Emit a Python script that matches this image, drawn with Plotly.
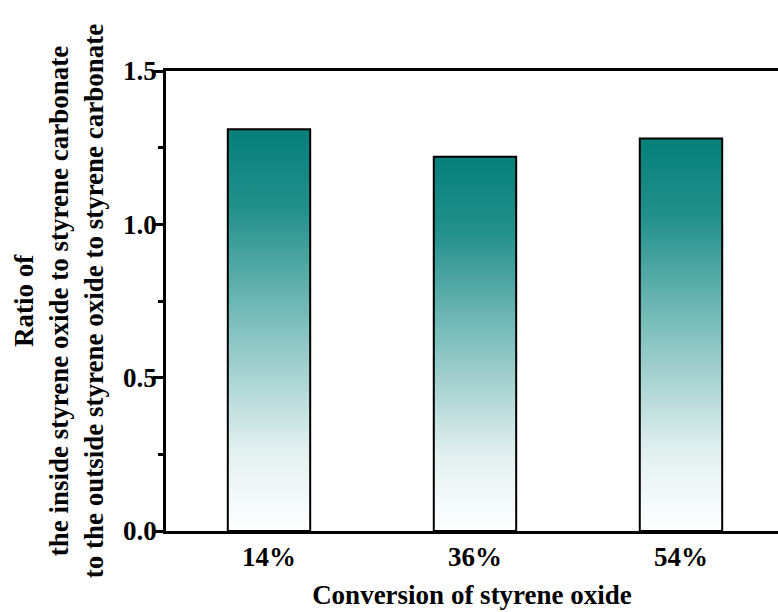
import plotly.graph_objects as go

categories = ["14%", "36%", "54%"]
ratios = [1.31, 1.22, 1.28]
y_ticks = [0.0, 0.5, 1.0, 1.5]
y_tick_labels = ["0.0", "0.5", "1.0", "1.5"]

FONT = "Liberation Serif"
half_w = 0.2
grad = [[0.0, "#ffffff"], [0.2, "#e3f0f0"], [0.5, "#84c2bf"], [0.8, "#23908b"], [1.0, "#067f79"]]

fig = go.Figure()
for i, (c, v) in enumerate(zip(categories, ratios)):
    fig.add_trace(go.Scatter(
        x=[i - half_w, i - half_w, i + half_w, i + half_w, i - half_w],
        y=[0, v, v, 0, 0],
        mode="lines",
        fill="toself",
        fillgradient=dict(type="vertical", colorscale=grad),
        line=dict(color="black", width=2),
        hoverinfo="skip",
        name=c,
        showlegend=False,
    ))

fig.update_layout(
    width=778, height=612,
    margin=dict(l=166, r=0, t=71, b=81),
    paper_bgcolor="white", plot_bgcolor="white",
    font=dict(family=FONT, size=27, color="black", weight="bold"),
    xaxis=dict(
        range=[-0.5, 2.471],
        tickvals=list(range(len(categories))),
        ticktext=categories,
        showline=True, linecolor="black", linewidth=2.5, mirror=True,
        ticks="", showgrid=False, zeroline=False,
        tickfont=dict(family=FONT, size=27, weight="bold"),
        title=dict(text="Conversion of styrene oxide", font=dict(family=FONT, size=27, weight="bold"), standoff=14),
    ),
    yaxis=dict(
        range=[0, 1.5],
        tickvals=y_ticks, ticktext=y_tick_labels,
        showline=True, linecolor="black", linewidth=2.5, mirror=False,
        ticks="outside", ticklen=10, tickwidth=2.5, tickcolor="black",
        ticklabelstandoff=-9,
        minor=dict(dtick=0.25, ticks="outside", ticklen=5, tickwidth=2.5, tickcolor="black"),
        showgrid=False, zeroline=False,
        tickfont=dict(family=FONT, size=27, weight="bold"),
        title=dict(text="Ratio of<br>the inside styrene oxide to styrene carbonate<br>to the outside styrene oxide to styrene carbonate",
                   font=dict(family=FONT, size=27, weight="bold"), standoff=12),
    ),
)

fig.write_html("out.html")
